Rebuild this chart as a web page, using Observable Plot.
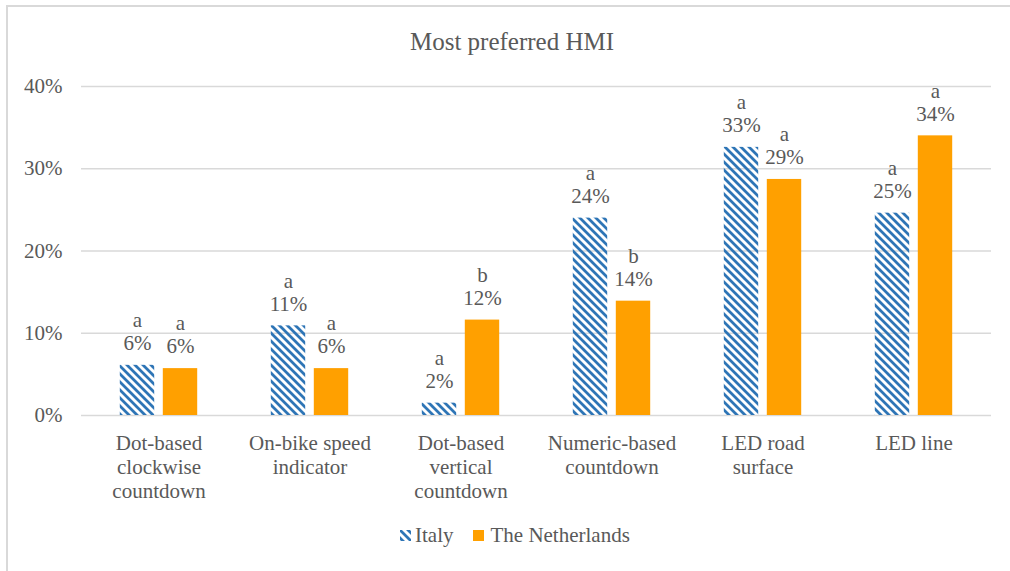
<!DOCTYPE html>
<html>
<head>
<meta charset="utf-8">
<script src="https://cdn.jsdelivr.net/npm/d3@7"></script>
<script src="https://cdn.jsdelivr.net/npm/@observablehq/plot@0.6"></script>
<style>
  body { margin: 0; background: #fff; font-family: "Liberation Serif", "DejaVu Serif", serif; color: #595959; }
  #frame { position: absolute; left: 6px; top: 5px; width: 1012px; height: 580px; border: 2px solid #d9d9d9; box-sizing: border-box; }
  #title { position: absolute; left: 0; top: 27px; width: 1024px; height: 30px; line-height: 30px; text-align: center; font-size: 25px; }
  #chart { position: absolute; left: 0; top: 70px; }
  #legend { position: absolute; left: 400px; top: 522px; height: 26px; display: flex; align-items: center; font-size: 21px; }
  .item { display: flex; align-items: center; }
  .sw { width: 11px; height: 11px; margin-right: 4px; }
</style>
</head>
<body>
<div id="frame"></div>
<div id="title">Most preferred HMI</div>
<div id="chart"></div>
<div id="legend"></div>
<script>
const categories = ["Dot-based\nclockwise\ncountdown", "On-bike speed\nindicator", "Dot-based\nvertical\ncountdown", "Numeric-based\ncountdown", "LED road\nsurface", "LED line"];
const seriesNames = ["Italy", "The Netherlands"];
const italy = [6.1, 10.9, 1.5, 24.0, 32.6, 24.6];
const netherlands = [5.7, 5.7, 11.6, 13.9, 28.7, 34.0];
const italyLabels = ["6%", "11%", "2%", "24%", "33%", "25%"];
const netherlandsLabels = ["6%", "6%", "12%", "14%", "29%", "34%"];
const italyLetters = ["a", "a", "a", "a", "a", "a"];
const netherlandsLetters = ["a", "a", "b", "b", "a", "a"];
const yTicks = [0, 10, 20, 30, 40];

const BLUE = "#2e75b6";
const ORANGE = "#ffa000";
const FONT = "'Liberation Serif', 'DejaVu Serif', serif";

const italyRows = categories.map((c, i) => ({category: c, value: italy[i], label: italyLabels[i], letter: italyLetters[i]}));
const nlRows = categories.map((c, i) => ({category: c, value: netherlands[i], label: netherlandsLabels[i], letter: netherlandsLetters[i]}));

const patternDef = (id) => `<pattern id="${id}" patternUnits="userSpaceOnUse" width="8" height="8">
  <path d="M-2,-2 L10,10 M6,-2 L10,2 M-2,6 L2,10" stroke="${BLUE}" stroke-width="2.8" fill="none"/>
</pattern>`;

const chart = Plot.plot({
  width: 1010,
  height: 440,
  marginLeft: 81,
  marginRight: 19,
  marginTop: 16,
  marginBottom: 95,
  style: {fontFamily: FONT, fontSize: "21px", color: "#595959", background: "transparent", overflow: "visible"},
  x: {domain: categories, padding: 0, label: null},
  y: {domain: [0, 40], label: null},
  marks: [
    Plot.gridY(yTicks, {stroke: "#d9d9d9", strokeOpacity: 1, strokeWidth: 1.5}),
    Plot.axisY(yTicks, {tickSize: 0, tickPadding: 19, tickFormat: d => d + "%", fontSize: 21, label: null}),
    Plot.axisX({tickSize: 0, tickPadding: 17, lineHeight: 1.15, fontSize: 21, label: null}),
    Plot.barY(italyRows, {x: "category", y: "value", fill: "url(#hatchItaly)", insetLeft: 36.8, insetRight: 79.8}),
    Plot.barY(nlRows, {x: "category", y: "value", fill: ORANGE, insetLeft: 79.8, insetRight: 36.8}),
    Plot.text(italyRows, {x: "category", y: "value", text: "label", dx: -21.5, dy: -22, fontSize: 21, fill: "#595959"}),
    Plot.text(italyRows, {x: "category", y: "value", text: "letter", dx: -21.5, dy: -45, fontSize: 21, fill: "#595959"}),
    Plot.text(nlRows, {x: "category", y: "value", text: "label", dx: 21.5, dy: -22, fontSize: 21, fill: "#595959"}),
    Plot.text(nlRows, {x: "category", y: "value", text: "letter", dx: 21.5, dy: -45, fontSize: 21, fill: "#595959"})
  ]
});
d3.select(chart).insert("defs", ":first-child").html(patternDef("hatchItaly"));
document.getElementById("chart").appendChild(chart);

const legend = d3.select("#legend");
const i1 = legend.append("div").attr("class", "item").style("margin-right", "20px");
i1.append("svg").attr("class", "sw").attr("width", 11).attr("height", 11)
  .html(patternDef("hatchLegend") + `<rect width="11" height="11" fill="url(#hatchLegend)"/>`);
i1.append("span").text(seriesNames[0]);
const i2 = legend.append("div").attr("class", "item");
i2.append("div").attr("class", "sw").style("background", ORANGE).style("margin-right", "6px");
i2.append("span").text(seriesNames[1]);
</script>
</body>
</html>
